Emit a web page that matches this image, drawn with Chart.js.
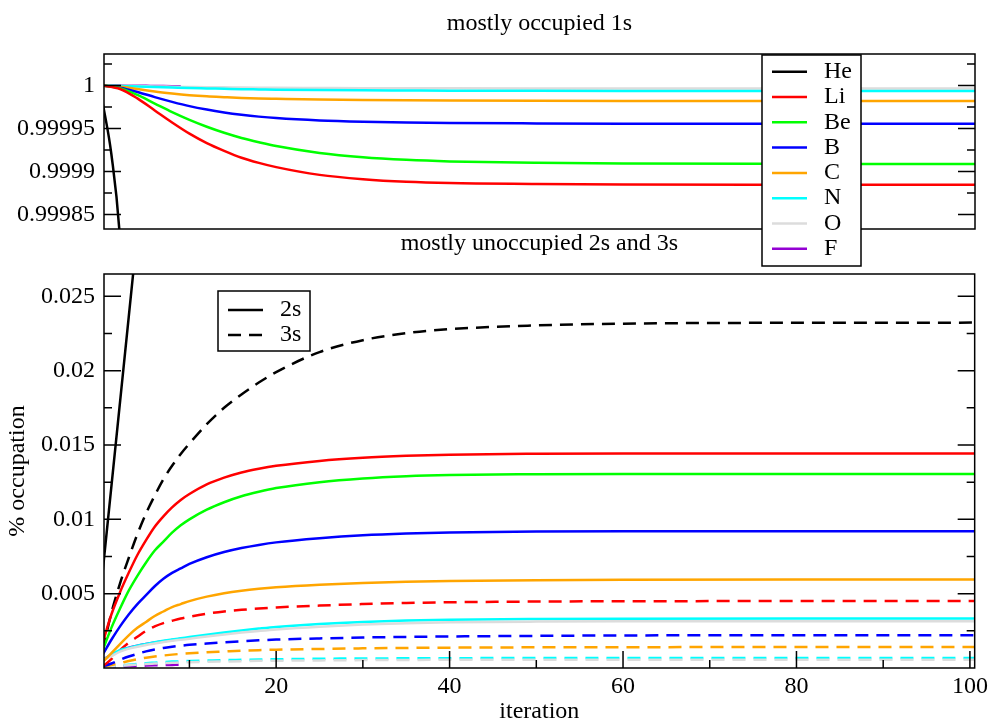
<!DOCTYPE html>
<html lang="en">
<head>
  <meta charset="UTF-8" />
  <title>Occupation vs iteration</title>
  <script src="https://cdn.jsdelivr.net/npm/chart.js"></script>
  <style>
    html, body { margin: 0; padding: 0; background: #fff; }
    #wrap { position: relative; width: 992px; height: 724px; }
    #wrap canvas { position: absolute; left: 0; top: 0; }
  </style>
</head>
<body>
  <div id="wrap">
    <canvas id="bottomChart" width="992" height="724"></canvas>
    <canvas id="topChart" width="992" height="724"></canvas>
  </div>

  <script>
    // element names and colours (xmgrace palette)
    const ELEMENTS = ['He', 'Li', 'Be', 'B', 'C', 'N', 'O', 'F'];
    const COLORS = ['#000000', '#ff0000', '#00ff00', '#0000ff', '#ffa500', '#00ffff', '#dcdcdc', '#9400d3'];

    const IT_TOP = [0, 2, 4, 6, 8, 10, 12, 14, 16, 18, 20, 25, 30, 35, 40, 50, 60, 80, 101];
    const IT_BOT = [0, 1, 2, 3, 4, 5, 6, 7, 8, 9, 10, 12, 14, 16, 18, 20, 25, 30, 35, 40, 50, 60, 80, 101];
    const IT_HE = [0, 1, 2, 3, 4];
    const IT_F = [0, 1, 2, 3, 4, 5, 6, 7, 8, 9];

    // 1s occupation (top panel)
    const HE_1S = [0.99998, 0.99992, 0.99982, 0.9996, 0.9993];
    const LI_1S = [1, 0.999996, 0.999985, 0.999971, 0.999957, 0.999944, 0.999933, 0.999924, 0.999916, 0.99991, 0.999905, 0.999896, 0.999891, 0.999888, 0.9998865, 0.9998855, 0.9998848, 0.9998845, 0.9998844];
    const BE_1S = [1, 0.999997, 0.999989, 0.999979, 0.999969, 0.99996, 0.999952, 0.999945, 0.999939, 0.999934, 0.9999295, 0.9999215, 0.9999165, 0.9999135, 0.9999117, 0.99991, 0.9999092, 0.9999088, 0.9999087];
    const B_1S = [1, 0.9999975, 0.9999925, 0.9999865, 0.999981, 0.999976, 0.999972, 0.9999687, 0.999966, 0.9999638, 0.9999621, 0.9999594, 0.9999579, 0.999957, 0.9999564, 0.9999559, 0.9999556, 0.9999555, 0.9999555];
    const C_1S = [1, 0.9999985, 0.999996, 0.999993, 0.9999907, 0.9999888, 0.9999874, 0.9999864, 0.9999855, 0.9999849, 0.9999845, 0.9999836, 0.9999831, 0.9999828, 0.9999826, 0.9999823, 0.9999821, 0.999982, 0.999982];
    const N_1S = [1, 0.9999994, 0.9999988, 0.9999982, 0.9999976, 0.999997, 0.9999966, 0.9999962, 0.9999958, 0.9999955, 0.9999952, 0.9999947, 0.9999944, 0.9999942, 0.999994, 0.9999938, 0.9999937, 0.9999937, 0.9999937];
    const O_1S = [1, 0.9999997, 0.9999994, 0.999999, 0.9999987, 0.9999984, 0.9999981, 0.9999979, 0.9999977, 0.9999975, 0.9999973, 0.9999971, 0.9999969, 0.9999968, 0.9999967, 0.9999966, 0.9999965, 0.9999965, 0.9999965];
    const F_1S = [1, 1, 0.9999999, 0.9999998, 0.9999997, 0.9999996, 0.9999995, 0.9999994, 0.9999993, 0.9999992];

    // 2s occupation (bottom panel, solid)
    const HE_2S = [0.0065, 0.0122, 0.0179, 0.0236, 0.0293];
    const LI_2S = [0.0017, 0.0036, 0.0051, 0.0064, 0.0076, 0.0086, 0.0095, 0.0102, 0.0108, 0.0113, 0.0117, 0.01235, 0.0128, 0.01315, 0.0134, 0.0136, 0.01393, 0.01414, 0.01427, 0.01435, 0.01441, 0.01443, 0.01443, 0.01443];
    const BE_2S = [0.0012, 0.0027, 0.004, 0.0052, 0.0062, 0.0071, 0.0079, 0.0085, 0.0091, 0.0096, 0.01, 0.01065, 0.01115, 0.01155, 0.01185, 0.0121, 0.0125, 0.01275, 0.0129, 0.01298, 0.01303, 0.01305, 0.01305, 0.01305];
    const B_2S = [0.0009, 0.0019, 0.0028, 0.0036, 0.0043, 0.0049, 0.0055, 0.006, 0.0064, 0.0067, 0.007, 0.00745, 0.0078, 0.00807, 0.00828, 0.00845, 0.00873, 0.00893, 0.00905, 0.00912, 0.00918, 0.0092, 0.0092, 0.0092];
    const C_2S = [0.0004, 0.001, 0.0016, 0.0022, 0.0027, 0.0031, 0.0035, 0.0038, 0.0041, 0.0043, 0.0045, 0.0048, 0.00503, 0.0052, 0.00533, 0.00543, 0.0056, 0.00572, 0.0058, 0.00585, 0.00591, 0.00594, 0.00595, 0.00595];
    const N_2S = [0.0005, 0.0009, 0.0012, 0.00135, 0.0015, 0.00162, 0.00173, 0.00183, 0.00192, 0.002, 0.00208, 0.00224, 0.00239, 0.00253, 0.00265, 0.00276, 0.00296, 0.0031, 0.00319, 0.00325, 0.0033, 0.00332, 0.00333, 0.00333];
    const O_2S = [0.0005, 0.0008, 0.0011, 0.0013, 0.00143, 0.00155, 0.00165, 0.00175, 0.00183, 0.0019, 0.00197, 0.00212, 0.00226, 0.00238, 0.00249, 0.00259, 0.00278, 0.00292, 0.00301, 0.00307, 0.00312, 0.00314, 0.00315, 0.00315];
    const F_2S = [0.00055, 0.0009, 0.00117, 0.00136, 0.0015, 0.00161, 0.00171, 0.0018, 0.00188, 0.00196];

    // 3s occupation (bottom panel, dashed)
    const HE_3S = [0.0012, 0.0037, 0.0057, 0.0074, 0.009, 0.0104, 0.0116, 0.0127, 0.0136, 0.0144, 0.0151, 0.0164, 0.0175, 0.0184, 0.0192, 0.0199, 0.02125, 0.02205, 0.02252, 0.02279, 0.02304, 0.02316, 0.02322, 0.02323];
    const LI_3S = [0.0001, 0.0006, 0.0012, 0.0017, 0.0021, 0.0025, 0.0028, 0.00302, 0.00318, 0.00333, 0.00345, 0.00365, 0.0038, 0.00391, 0.004, 0.00407, 0.0042, 0.0043, 0.00437, 0.00442, 0.00447, 0.00449, 0.0045, 0.0045];
    const B_3S = [0.0001, 0.0003, 0.00055, 0.00077, 0.00095, 0.00112, 0.00125, 0.00135, 0.00143, 0.0015, 0.00156, 0.00165, 0.00173, 0.0018, 0.00186, 0.00191, 0.00199, 0.00205, 0.00209, 0.00212, 0.00216, 0.00219, 0.0022, 0.0022];
    const C_3S = [0.0001, 0.0002, 0.00033, 0.00047, 0.00059, 0.00069, 0.00077, 0.00084, 0.0009, 0.00095, 0.00099, 0.00106, 0.00111, 0.00116, 0.0012, 0.00123, 0.00128, 0.00132, 0.00135, 0.00137, 0.00139, 0.0014, 0.00141, 0.00141];
    const N_3S = [0.00005, 0.0001, 0.00016, 0.00022, 0.00027, 0.00032, 0.00036, 0.0004, 0.00043, 0.00045, 0.00047, 0.0005, 0.00053, 0.00055, 0.00057, 0.00059, 0.00062, 0.00064, 0.00065, 0.00066, 0.00067, 0.00067, 0.00067, 0.00067];
    const O_3S = [0.00005, 0.00009, 0.00014, 0.00019, 0.00023, 0.00027, 0.0003, 0.00033, 0.00035, 0.00037, 0.00039, 0.00042, 0.00044, 0.00046, 0.00048, 0.00049, 0.00051, 0.00053, 0.00054, 0.00055, 0.00055, 0.00055, 0.00055, 0.00055];
    const F_3S = [0, 0.00004, 0.00008, 0.00011, 0.00014, 0.00016, 0.00018, 0.0002, 0.00021, 0.00022];

    // axis ticks and labels
    const TOP_Y_TICKS = [0.99985, 0.9999, 0.99995, 1];
    const TOP_Y_LABELS = ['0.99985', '0.9999', '0.99995', '1'];
    const TOP_Y_MINOR = [0.999875, 0.999925, 0.999975, 1.000025];
    const BOT_Y_TICKS = [0.005, 0.01, 0.015, 0.02, 0.025];
    const BOT_Y_LABELS = ['0.005', '0.01', '0.015', '0.02', '0.025'];
    const BOT_Y_MINOR = [0.0025, 0.0075, 0.0125, 0.0175, 0.0225];
    const X_TICKS = [20, 40, 60, 80, 100];
    const X_LABELS = ['20', '40', '60', '80', '100'];
    const X_MINOR = [10, 30, 50, 70, 90];
    const SHELL_LABELS = ['2s', '3s'];

    const FONT = '"Liberation Serif", "Times New Roman", serif';
    Chart.defaults.font.family = FONT;
    Chart.defaults.font.size = 24;
    Chart.defaults.color = '#000';

    function pts(xs, ys) {
      return xs.map((x, i) => ({ x: x, y: ys[i] }));
    }

    function line(label, xs, ys, color, dashed) {
      return {
        label: label,
        data: pts(xs, ys),
        borderColor: color,
        backgroundColor: color,
        borderWidth: 2.5,
        borderDash: dashed ? [13, 8] : [],
        pointRadius: 0,
        fill: false,
        cubicInterpolationMode: 'monotone'
      };
    }

    // frame, inward ticks, panel title and boxed legend
    const panelPlugin = {
      id: 'panel',
      afterDraw(chart, args, o) {
        const ctx = chart.ctx;
        const a = chart.chartArea;
        const xs = chart.scales.x, ys = chart.scales.y;
        ctx.save();
        ctx.strokeStyle = '#000';
        ctx.lineWidth = 1.5;
        ctx.setLineDash([]);
        ctx.beginPath();
        const yTick = (v, len) => {
          const p = ys.getPixelForValue(v);
          ctx.moveTo(a.left, p); ctx.lineTo(a.left + len, p);
          ctx.moveTo(a.right, p); ctx.lineTo(a.right - len, p);
        };
        o.yMajor.forEach(v => yTick(v, 17));
        o.yMinor.forEach(v => yTick(v, 8));
        if (o.xTicks) {
          o.xMajor.forEach(v => {
            const p = xs.getPixelForValue(v);
            ctx.moveTo(p, a.bottom); ctx.lineTo(p, a.bottom - 17);
          });
          o.xMinor.forEach(v => {
            const p = xs.getPixelForValue(v);
            ctx.moveTo(p, a.bottom); ctx.lineTo(p, a.bottom - 8);
          });
        }
        ctx.stroke();
        ctx.strokeRect(a.left, a.top, a.right - a.left, a.bottom - a.top);

        ctx.fillStyle = '#000';
        ctx.font = '24px ' + FONT;
        ctx.textAlign = 'center';
        ctx.textBaseline = 'middle';
        ctx.fillText(o.title, (a.left + a.right) / 2, a.top - 30);

        // legend box
        const L = o.legend;
        const bx = a.left + L.dx, by = a.top + L.dy;
        ctx.fillStyle = '#fff';
        ctx.fillRect(bx, by, L.w, L.h);
        ctx.strokeRect(bx, by, L.w, L.h);
        ctx.textAlign = 'left';
        L.items.forEach((it, i) => {
          const y = by + L.first + i * L.step;
          ctx.strokeStyle = it.color;
          ctx.lineWidth = 2.5;
          ctx.setLineDash(it.dash || []);
          ctx.beginPath();
          ctx.moveTo(bx + 10, y);
          ctx.lineTo(bx + 45, y);
          ctx.stroke();
          ctx.setLineDash([]);
          ctx.fillStyle = '#000';
          ctx.fillText(it.label, bx + 62, y);
        });
        ctx.restore();
      }
    };

    const xScale = (display) => ({
      type: 'linear',
      min: 0.15,
      max: 100.55,
      display: display,
      grid: { display: false, drawTicks: false },
      border: { display: false },
      afterBuildTicks: s => { s.ticks = X_TICKS.map(v => ({ value: v })); },
      afterFit: s => { s.height = display ? 56 : 0; },
      ticks: {
        padding: 4,
        autoSkip: false,
        maxRotation: 0,
        font: { size: 24, lineHeight: 1.2 },
        callback: (v, i) => X_LABELS[i]
      },
      title: {
        display: true,
        text: 'iteration',
        font: { size: 24, lineHeight: 1 },
        padding: { top: 0, bottom: 0 }
      }
    });

    // top panel: 1s
    const topSets = [
      line('He', IT_HE, HE_1S, COLORS[0]),
      line('Li', IT_TOP, LI_1S, COLORS[1]),
      line('Be', IT_TOP, BE_1S, COLORS[2]),
      line('B', IT_TOP, B_1S, COLORS[3]),
      line('C', IT_TOP, C_1S, COLORS[4]),
      line('N', IT_TOP, N_1S, COLORS[5]),
      line('O', IT_TOP, O_1S, COLORS[6]),
      line('F', IT_F, F_1S, COLORS[7])
    ];

    new Chart(document.getElementById('topChart'), {
      type: 'line',
      data: { datasets: topSets },
      options: {
        responsive: false,
        animation: false,
        events: [],
        layout: { padding: { top: 54, right: 17, bottom: 495, left: 0 } },
        plugins: {
          legend: { display: false },
          tooltip: { enabled: false },
          panel: {
            title: 'mostly occupied 1s',
            yMajor: TOP_Y_TICKS,
            yMinor: TOP_Y_MINOR,
            xTicks: false,
            legend: {
              dx: 658, dy: 1, w: 99, h: 211, first: 16.7, step: 25.3,
              items: ELEMENTS.map((e, i) => ({ label: e, color: COLORS[i] }))
            }
          }
        },
        scales: {
          x: xScale(false),
          y: {
            type: 'linear',
            min: 0.999833,
            max: 1.0000367,
            grid: { display: false, drawTicks: false },
            border: { display: false },
            afterBuildTicks: s => { s.ticks = TOP_Y_TICKS.map(v => ({ value: v })); },
            afterFit: s => { s.width = 104; },
            ticks: {
              padding: 9,
              autoSkip: false,
              font: { size: 24, lineHeight: 1.2 },
              callback: (v, i) => TOP_Y_LABELS[i]
            }
          }
        }
      },
      plugins: [panelPlugin]
    });

    // bottom panel: 2s solid, 3s dashed
    const botSets = [
      line('He 2s', IT_HE, HE_2S, COLORS[0]),
      line('Li 2s', IT_BOT, LI_2S, COLORS[1]),
      line('Be 2s', IT_BOT, BE_2S, COLORS[2]),
      line('B 2s', IT_BOT, B_2S, COLORS[3]),
      line('C 2s', IT_BOT, C_2S, COLORS[4]),
      line('O 2s', IT_BOT, O_2S, COLORS[6]),
      line('N 2s', IT_BOT, N_2S, COLORS[5]),
      line('F 2s', IT_F, F_2S, COLORS[7]),
      line('He 3s', IT_BOT, HE_3S, COLORS[0], true),
      line('Li 3s', IT_BOT, LI_3S, COLORS[1], true),
      line('B 3s', IT_BOT, B_3S, COLORS[3], true),
      line('C 3s', IT_BOT, C_3S, COLORS[4], true),
      line('O 3s', IT_BOT, O_3S, COLORS[6], true),
      line('N 3s', IT_BOT, N_3S, COLORS[5], true),
      line('F 3s', IT_F, F_3S, COLORS[7], true)
    ];

    new Chart(document.getElementById('bottomChart'), {
      type: 'line',
      data: { datasets: botSets },
      options: {
        responsive: false,
        animation: false,
        events: [],
        layout: { padding: { top: 274, right: 17, bottom: 0, left: 0 } },
        plugins: {
          legend: { display: false },
          tooltip: { enabled: false },
          panel: {
            title: 'mostly unoccupied 2s and 3s',
            yMajor: BOT_Y_TICKS,
            yMinor: BOT_Y_MINOR,
            xTicks: true,
            xMajor: X_TICKS,
            xMinor: X_MINOR,
            legend: {
              dx: 114, dy: 17, w: 92, h: 60, first: 19, step: 25,
              items: SHELL_LABELS.map((s, i) => ({ label: s, color: '#000', dash: i ? [13, 8] : [] }))
            }
          }
        },
        scales: {
          x: xScale(true),
          y: {
            type: 'linear',
            min: 0,
            max: 0.0265,
            grid: { display: false, drawTicks: false },
            border: { display: false },
            afterBuildTicks: s => { s.ticks = BOT_Y_TICKS.map(v => ({ value: v })); },
            afterFit: s => { s.width = 104; },
            ticks: {
              padding: 9,
              autoSkip: false,
              font: { size: 24, lineHeight: 1.2 },
              callback: (v, i) => BOT_Y_LABELS[i]
            },
            title: {
              display: true,
              text: '% occupation',
              font: { size: 24, lineHeight: 1 },
              padding: { top: 6, bottom: 0 }
            }
          }
        }
      },
      plugins: [panelPlugin]
    });
  </script>
</body>
</html>
